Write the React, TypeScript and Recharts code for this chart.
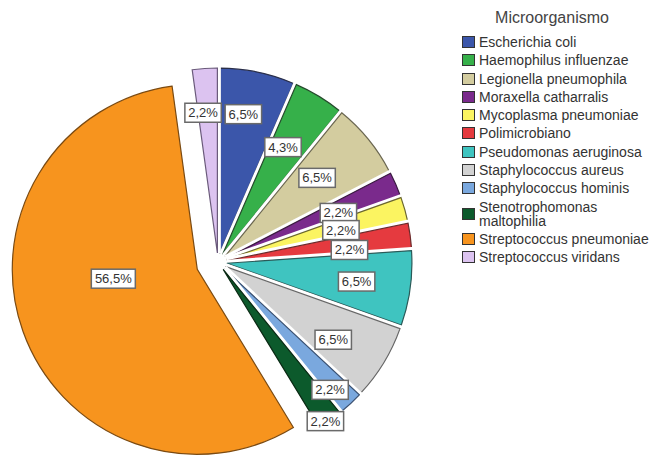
import React from 'react';
import { PieChart, Pie, Cell, Sector, Legend } from 'recharts';

const categories = [
  'Escherichia coli',
  'Haemophilus influenzae',
  'Legionella pneumophila',
  'Moraxella catharralis',
  'Mycoplasma pneumoniae',
  'Polimicrobiano',
  'Pseudomonas aeruginosa',
  'Staphylococcus aureus',
  'Staphylococcus hominis',
  'Stenotrophomonas maltophilia',
  'Streptococcus pneumoniae',
  'Streptococcus viridans',
];
const counts = [3, 2, 3, 1, 1, 1, 3, 3, 1, 1, 26, 1];
const legendTitle = 'Microorganismo';

const colors = [
  '#3b56aa', '#36b04a', '#d3cc9f', '#7a2a8c', '#fbf461', '#e53a3f',
  '#3fc4c0', '#d2d2d2', '#7aa8de', '#0c5a2c', '#f7941e', '#dcc3f0',
];
const strokes = [
  '#2a2f4a', '#234a2a', '#6a6650', '#3a1a40', '#6a6630', '#6a2a2a',
  '#2a5a58', '#666666', '#3a5070', '#0a2a14', '#7a4a12', '#6a5a7a',
];
const explode = [9, 9, 9, 9, 9, 9, 9, 9, 9, 9, 22, 9];
const labelRadius = [150, 132, 130, 130, 127, 132, 140, 139, 170, 192, 106, 150];
const labelShift = [-2, -1.8, -1.2, 1.3, 1.1, 2.6, 0.2, 2.7, 1.8, 1.2, 10.5, -1.8];

const data = categories.map((name, i) => ({ name, value: counts[i] }));
const RADIAN = Math.PI / 180;

const idxOf = (props: any) =>
  typeof props.index === 'number' ? props.index : categories.indexOf(props.name ?? props.payload?.name);

const renderSlice = (props: any) => {
  const i = idxOf(props);
  const d = explode[i] ?? 9;
  const a = -props.midAngle * RADIAN;
  const cx = props.cx + d * Math.cos(a);
  const cy = props.cy + d * Math.sin(a);
  return (
    <g>
      <Sector {...props} cx={cx} cy={cy} fill="#ffffff" stroke="#ffffff" strokeWidth={7} strokeLinejoin="miter" />
      <Sector {...props} cx={cx} cy={cy} fill={colors[i]} stroke={strokes[i]} strokeWidth={1.2} />
    </g>
  );
};

const renderLabel = (props: any) => {
  const i = idxOf(props);
  const r = labelRadius[i];
  const a = (props.midAngle - labelShift[i]) * RADIAN;
  const x = props.cx + r * Math.cos(a);
  const y = props.cy - r * Math.sin(a);
  const txt = (props.percent * 100).toFixed(1).replace('.', ',') + '%';
  const w = txt.length * 7.6 + 6;
  const h = 19;
  return (
    <g>
      <rect x={x - w / 2} y={y - h / 2} width={w} height={h} fill="#ffffff" stroke="#6a6a6a" strokeWidth={1.5} />
      <text x={x} y={y + 4.5} textAnchor="middle" fontSize={13} fontFamily="Liberation Sans, Arial, sans-serif" fill="#333">
        {txt}
      </text>
    </g>
  );
};

const LegendContent = () => (
  <div style={{ fontFamily: 'Liberation Sans, Arial, sans-serif', color: '#333' }}>
    <div style={{ textAlign: 'center', fontSize: 16, height: 26, lineHeight: '26px', marginBottom: 2, color: '#444', paddingLeft: 10 }}>
      {legendTitle}
    </div>
    {categories.map((c, i) => (
      <div key={c} style={{ display: 'flex', alignItems: 'center', paddingTop: 2, paddingBottom: 2.3 }}>
        <span
          style={{
            display: 'inline-block',
            marginLeft: 22,
            width: 11,
            height: 10,
            background: colors[i],
            border: '1px solid #333',
            flexShrink: 0,
          }}
        />
        <span style={{ marginLeft: 4, fontSize: 14, lineHeight: '14px', width: 175 }}>{c}</span>
      </div>
    ))}
  </div>
);

export default function App() {
  return (
    <div style={{ position: 'absolute', left: 0, top: 0, width: 654, height: 459, background: '#fff' }}>
      <PieChart width={654} height={459} margin={{ top: 0, right: 0, bottom: 0, left: 0 }}>
        <Pie
          data={data}
          dataKey="value"
          nameKey="name"
          cx={218}
          cy={262}
          outerRadius={185}
          startAngle={90}
          endAngle={-270}
          isAnimationActive={false}
          shape={renderSlice}
          label={renderLabel}
          labelLine={false}
        >
          {data.map((d, i) => (
            <Cell key={d.name} fill={colors[i]} stroke={strokes[i]} strokeWidth={1} />
          ))}
        </Pie>
        <Legend
          content={<LegendContent />}
          wrapperStyle={{ position: 'absolute', left: 440, top: 5, width: 214 }}
        />
      </PieChart>
    </div>
  );
}
